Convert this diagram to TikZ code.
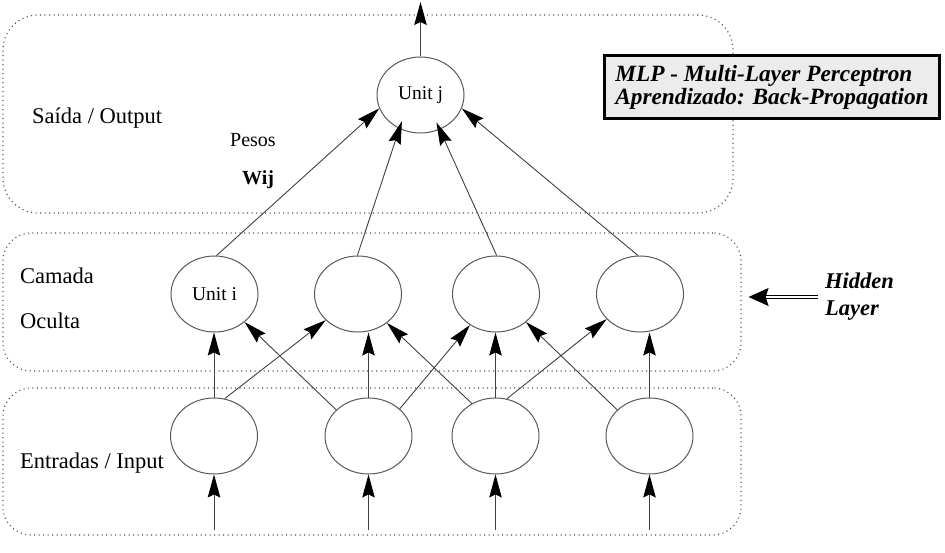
\documentclass[tikz,border=0pt]{standalone}
\usepackage{fontspec}
\setmainfont{Liberation Serif}
\usetikzlibrary{shapes.geometric,arrows.meta}
\begin{document}
\begin{tikzpicture}[x=1pt,y=-1pt,
  unit/.style={ellipse, draw=black!65, line width=1pt, minimum width=87pt, minimum height=76pt, inner sep=0pt, font=\fontsize{19.5}{22}\selectfont},
  layerbox/.style={draw=black!70, line width=1.2pt, dash pattern=on 1pt off 3.5pt, inner sep=0pt},
  conn/.style={draw=black!75, line width=0.9pt, -{Stealth[length=23pt,width=12.5pt,inset=3pt,black]}},
  lbl/.style={anchor=base west, inner sep=0pt, font=\fontsize{22.5}{27}\selectfont},
  smalllbl/.style={anchor=base west, inner sep=0pt, font=\fontsize{20}{24}\selectfont},
  titlebox/.style={draw, line width=3pt, fill=gray!15, minimum width=335pt, minimum height=63pt, inner sep=0pt, align=left, font=\fontsize{23.3}{23}\selectfont\bfseries\itshape},
  sidelbl/.style={anchor=west, inner sep=0pt, align=left, font=\fontsize{22.5}{27}\selectfont\bfseries\itshape}
]
\path[use as bounding box] (0,0) rectangle (945,553);

% layer boxes
\node[layerbox, rounded corners=35pt, minimum width=730pt, minimum height=198pt] (outbox) at (368,114) {};
\node[layerbox, rounded corners=28pt, minimum width=738pt, minimum height=138pt] (hidbox) at (372,302) {};
\node[layerbox, rounded corners=28pt, minimum width=738pt, minimum height=147pt] (inbox) at (372,461.5) {};

% units
\node[unit] (j) at (420.5,95) {Unit j};
\node[unit] (h1) at (214.5,294) {Unit i};
\node[unit] (h2) at (358,294) {};
\node[unit] (h3) at (496,294) {};
\node[unit] (h4) at (640,294) {};
\node[unit] (i1) at (214,436) {};
\node[unit] (i2) at (368.5,436) {};
\node[unit] (i3) at (495.5,436) {};
\node[unit] (i4) at (649.5,436) {};

% free ends
\coordinate (top) at (420.5,2);
\coordinate (b1) at (214,530);
\coordinate (b2) at (368.5,530);
\coordinate (b3) at (495.5,530);
\coordinate (b4) at (649.5,530);

% labels
\node[lbl] (lout) at (32,124) {Saída / Output};
\node[smalllbl] (pesos) at (230,147) {Pesos};
\node[smalllbl, font=\fontsize{20}{24}\selectfont\bfseries] (wij) at (242,185) {Wij};
\node[lbl] (lcam) at (20,284) {Camada};
\node[lbl] (locu) at (20,329) {Oculta};
\node[lbl] (lin) at (20,468) {Entradas / Input};

\node[titlebox] (title) at (772,87) {MLP - Multi-Layer Perceptron\\Aprendizado: Back-Propagation};
\node[sidelbl] (hl) at (825,297) {Hidden\\Layer};
\coordinate (hlend) at ([xshift=7pt]hidbox.east);
\draw[double=white, double distance=2.4pt, line width=1.2pt, shorten <=7pt, -{Stealth[length=20pt,width=18pt,inset=3pt]}] (hl.west) -- (hl.west -| hlend);

% output
\draw[conn] (j.north) -- (top);

% inputs
\draw[conn] (b1) -- (i1.south);
\draw[conn] (b2) -- (i2.south);
\draw[conn] (b3) -- (i3.south);
\draw[conn] (b4) -- (i4.south);

% input -> hidden
\draw[conn] (i1.north) -- (i1.north |- h1.south);
\draw[conn] (i2.north) -- (i2.north |- h2.south);
\draw[conn] (i3.north) -- (i3.north |- h3.south);
\draw[conn] (i4.north) -- (i4.north |- h4.south);
\draw[conn] (i1.74) -- (h2.219);
\draw[conn] (i2.141) -- (h1.317);
\draw[conn] (i2.41) -- (h3.230);
\draw[conn] (i3.126) -- (h2.315);
\draw[conn] (i3.73) -- (h4.217);
\draw[conn] (i4.141) -- (h3.317);

% hidden -> output
\draw[conn] (h1.87) -- (j.198);
\draw[conn, shorten >=-8pt] (h2.91) -- (j.238);
\draw[conn, shorten >=-8pt] (h3.89) -- (j.299);
\draw[conn] (h4.93) -- (j.342);
\end{tikzpicture}
\end{document}
